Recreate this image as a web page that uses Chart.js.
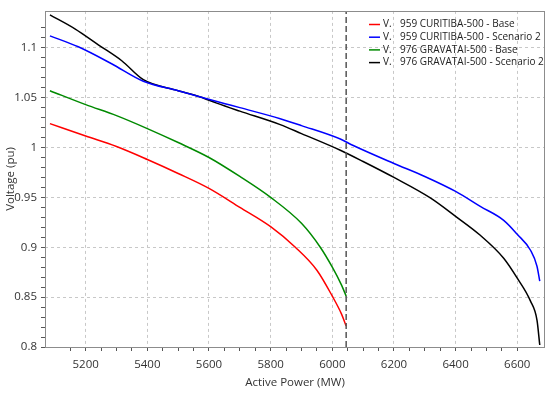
<!DOCTYPE html>
<html>
<head>
<meta charset="utf-8">
<script src="https://cdn.jsdelivr.net/npm/chart.js@4/dist/chart.umd.min.js"></script>
<style>
  html, body { margin: 0; padding: 0; background: #fff; }
  #wrap { width: 550px; height: 394px; position: relative; }
</style>
</head>
<body>
<div id="wrap"><canvas id="pv"></canvas></div>
<script>
// P-V curves, active power (MW) vs voltage (pu)
const redPower = [5084, 5200, 5300, 5400, 5500, 5600, 5700, 5800, 5880, 5950, 6000, 6030, 6045];
const redVolt  = [1.024, 1.0115, 1.001, 0.988, 0.974, 0.959, 0.940, 0.9206, 0.900, 0.877, 0.851, 0.833, 0.821];

const bluePower = [5084, 5176, 5284, 5387, 5500, 5572, 5652, 5700, 5831, 5900, 6026, 6068, 6200, 6300, 6400, 6480, 6556, 6600, 6643, 6664, 6673];
const blueVolt  = [1.112, 1.101, 1.084, 1.0665, 1.057, 1.0507, 1.044, 1.040, 1.0289, 1.022, 1.0085, 1.002, 0.984, 0.971, 0.956, 0.941, 0.927, 0.913, 0.897, 0.881, 0.866];

const greenPower = [5084, 5200, 5300, 5400, 5500, 5600, 5700, 5800, 5900, 5961, 6000, 6030, 6045];
const greenVolt  = [1.057, 1.043, 1.032, 1.019, 1.005, 0.990, 0.971, 0.950, 0.924, 0.900, 0.880, 0.862, 0.851];

const blackPower = [5084, 5165, 5241, 5317, 5387, 5500, 5572, 5625, 5700, 5831, 5900, 6026, 6100, 6200, 6318, 6400, 6480, 6556, 6600, 6643, 6664, 6673];
const blackVolt  = [1.133, 1.119, 1.103, 1.087, 1.068, 1.057, 1.0507, 1.0445, 1.0365, 1.023, 1.014, 0.9973, 0.986, 0.970, 0.9495, 0.931, 0.912, 0.889, 0.869, 0.846, 0.827, 0.802];

const seriesNames = [
  '959 CURITIBA-500 - Base',
  '959 CURITIBA-500 - Scenario 2',
  '976 GRAVATAI-500 - Base',
  '976 GRAVATAI-500 - Scenario 2'
];
const seriesColors = ['#ff0000', '#0000ff', '#008a00', '#000000'];

const markerPower = 6045;
const xMin = 5068, xMax = 6690;
const yMin = 0.8, yMax = 1.137;

function toPoints(px, vy) {
  return px.map((p, i) => ({ x: p, y: vy[i] }));
}

const FONT = "'Open Sans', 'Noto Sans', sans-serif";

const frameAndLegend = {
  id: 'frameAndLegend',
  afterDatasetsDraw(chart) {
    const a = chart.chartArea;
    const ctx = chart.ctx;
    ctx.save();
    ctx.strokeStyle = '#8c8c8c';
    ctx.lineWidth = 1;
    ctx.strokeRect(Math.round(a.left) + 0.5, Math.round(a.top) + 0.5,
                   Math.round(a.right - a.left) - 1, Math.round(a.bottom - a.top));
    // legend
    ctx.font = '10px ' + FONT;
    ctx.textBaseline = 'middle';
    const x0 = 369, y0 = 24.5, dy = 12.7;
    for (let i = 0; i < seriesNames.length; i++) {
      const y = y0 + i * dy;
      ctx.strokeStyle = seriesColors[i];
      ctx.lineWidth = 1.5;
      ctx.beginPath();
      ctx.moveTo(x0, y);
      ctx.lineTo(x0 + 11, y);
      ctx.stroke();
      ctx.fillStyle = '#222';
      ctx.fillText('V.', x0 + 14, y);
      ctx.fillText(seriesNames[i], x0 + 31, y);
    }
    ctx.restore();
  }
};

const datasets = [
  [redPower, redVolt], [bluePower, blueVolt], [greenPower, greenVolt], [blackPower, blackVolt]
].map((s, i) => ({
  label: seriesNames[i],
  data: toPoints(s[0], s[1]),
  borderColor: seriesColors[i],
  borderWidth: 1.5,
  pointRadius: 0,
  cubicInterpolationMode: 'monotone',
  fill: false
}));

datasets.unshift({
  label: 'marker',
  data: [{ x: markerPower, y: yMin }, { x: markerPower, y: yMax }],
  borderColor: '#555',
  borderWidth: 1.5,
  borderDash: [6, 3],
  pointRadius: 0,
  fill: false
});

new Chart(document.getElementById('pv'), {
  type: 'line',
  data: { datasets: datasets },
  options: {
    responsive: true,
    maintainAspectRatio: false,
    animation: false,
    layout: { padding: { top: 6, right: 5, left: 0, bottom: 0 } },
    plugins: { legend: { display: false }, tooltip: { enabled: false } },
    scales: {
      x: {
        type: 'linear',
        min: xMin,
        max: xMax,
        afterFit: s => { s.height = 47; },
        afterBuildTicks: s => { s.ticks = s.ticks.filter(t => t.value % 50 === 0); },
        ticks: {
          stepSize: 50,
          autoSkip: false,
          maxRotation: 0,
          padding: 7,
          color: '#333',
          font: { family: FONT, size: 11.5 },
          callback: v => (v % 200 === 0 ? String(v) : '')
        },
        grid: {
          color: c => (c.tick && c.tick.value % 200 === 0 ? '#c8c8c8' : 'rgba(0,0,0,0)'),
          tickColor: '#555',
          tickLength: 4,
          lineWidth: 1
        },
        border: { display: false, dash: [3, 3] },
        title: {
          display: true,
          text: 'Active Power (MW)',
          color: '#333',
          font: { family: FONT, size: 11.5 },
          padding: { top: 0, bottom: 4 }
        }
      },
      y: {
        type: 'linear',
        min: yMin,
        max: yMax,
        afterFit: s => { s.width = 45; },
        afterBuildTicks: s => { s.ticks = s.ticks.filter(t => Math.abs(t.value * 100 - Math.round(t.value * 100)) < 1e-6); },
        ticks: {
          stepSize: 0.01,
          autoSkip: false,
          padding: 4,
          color: '#333',
          font: { family: FONT, size: 11.5 },
          callback: v => {
            const k = Math.round(v * 100);
            return k % 5 === 0 ? String(k / 100) : '';
          }
        },
        grid: {
          color: c => (c.tick && Math.round(c.tick.value * 100) % 5 === 0 ? '#c8c8c8' : 'rgba(0,0,0,0)'),
          tickColor: '#555',
          tickLength: 4,
          lineWidth: 1
        },
        border: { display: false, dash: [3, 3] },
        title: {
          display: true,
          text: 'Voltage (pu)',
          color: '#333',
          font: { family: FONT, size: 11.5 },
          padding: { top: 4, bottom: 0 }
        }
      }
    }
  },
  plugins: [frameAndLegend]
});
</script>
</body>
</html>
